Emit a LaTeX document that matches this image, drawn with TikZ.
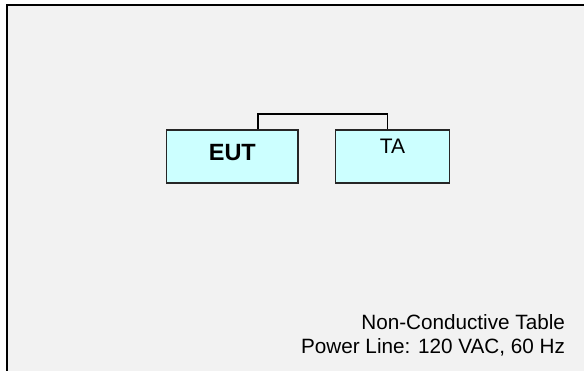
\documentclass[tikz,border=0pt]{standalone}
\usepackage{fontspec}
\setmainfont{Liberation Sans}
\usetikzlibrary{positioning}
\definecolor{tablegray}{HTML}{F2F2F2}
\definecolor{unitcyan}{HTML}{CCFFFF}

\begin{document}
\begin{tikzpicture}[x=1pt, y=1pt,
  unit/.style={draw=black!85, line width=1.4pt, fill=unitcyan, minimum height=53pt, inner sep=0pt},
  cable/.style={draw=black, line width=1.8pt}]
\useasboundingbox (0,0) rectangle (584,371);
% table area
\fill[tablegray] (7,0) rectangle (584,365.5);
\draw[line width=2pt] (7,0) -- (7,365.5) -- (584,365.5);
% units on the table
\node[unit, minimum width=131.3pt, font=\fontsize{23.5}{28}\selectfont\bfseries,
  text height=16.8pt, text depth=8.1pt] (eut) at (232.35,214.65) {EUT};
\node[unit, minimum width=114.3pt, font=\fontsize{21}{25}\selectfont,
  text height=15pt, text depth=20pt, right=36pt of eut] (ta) {TA};
% cable between them
\draw[cable] ([xshift=26pt]eut.north) -- ++(0,15.5) -| ([xshift=-5pt]ta.north);
% table notes
\node[anchor=base east, align=right, font=\fontsize{20.7}{24.5}\selectfont] (note) at (568.5,17)
  {Non-Conductive Table\\Power Line: 120 VAC, 60 Hz};
\end{tikzpicture}
\end{document}
